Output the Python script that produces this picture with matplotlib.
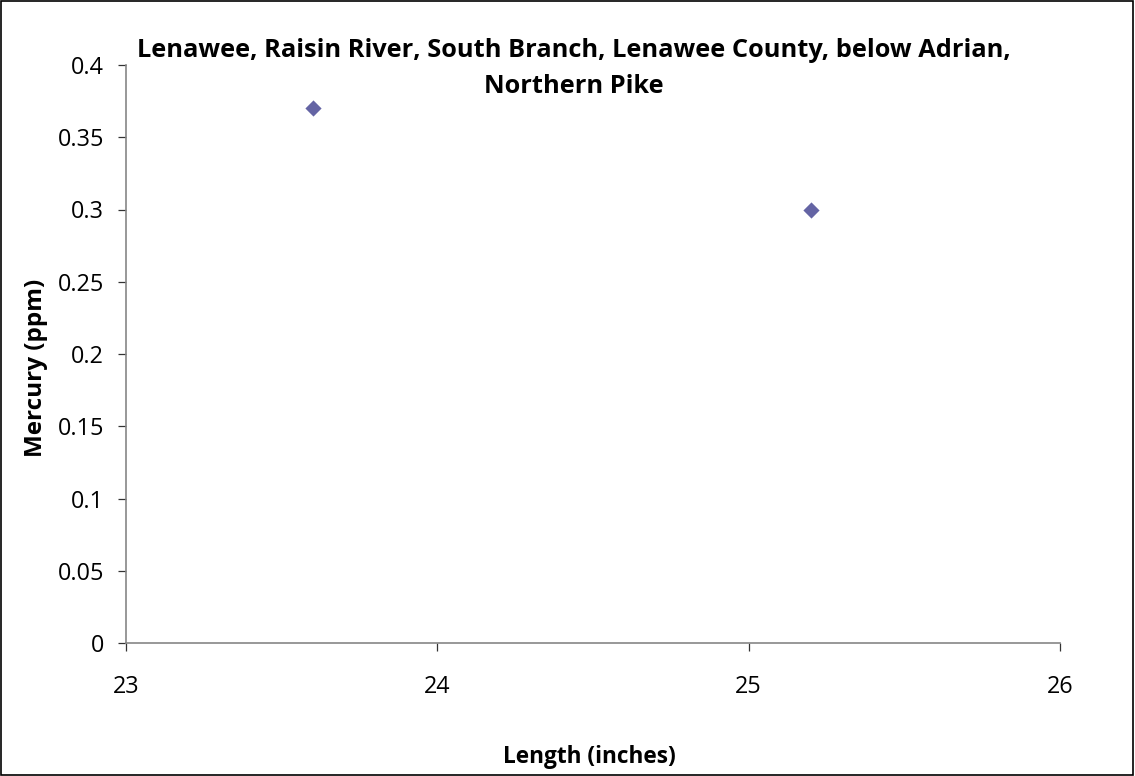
import matplotlib
matplotlib.use("Agg")
import matplotlib.pyplot as plt
from matplotlib.patches import Rectangle

length_in = [23.6, 25.2]
mercury_ppm = [0.37, 0.30]
x_ticks = [23, 24, 25, 26]
y_ticks = [0, 0.05, 0.1, 0.15, 0.2, 0.25, 0.3, 0.35, 0.4]
y_tick_labels = ["0", "0.05", "0.1", "0.15", "0.2", "0.25", "0.3", "0.35", "0.4"]
title = "Lenawee, Raisin River, South Branch, Lenawee County, below Adrian,\nNorthern Pike"

plt.rcParams['font.family'] = ['Open Sans', 'DejaVu Sans']

fig = plt.figure(figsize=(11.35, 7.76), dpi=100)
ax = fig.add_axes([126/1135, 1 - 643/776, (1060 - 126)/1135, (643 - 65)/776])

ax.scatter(length_in, mercury_ppm, marker='D', s=68, color='#6464A4', zorder=3, linewidths=0)

ax.set_xlim(23, 26)
ax.set_ylim(0, 0.4)
ax.set_xticks(x_ticks)
ax.set_xticklabels([str(t) for t in x_ticks], fontsize=16.8)
ax.set_yticks(y_ticks)
ax.set_yticklabels(y_tick_labels, fontsize=16.8)

for s in ['top', 'right']:
    ax.spines[s].set_visible(False)
for s in ['left', 'bottom']:
    ax.spines[s].set_color('#868686')
    ax.spines[s].set_linewidth(1.2)
ax.tick_params(axis='both', direction='out', length=6, width=0.9, color='#333333')
ax.tick_params(axis='x', pad=17)
ax.tick_params(axis='y', pad=10)

fig.text(574/1135, 1 - 93/776, title, ha='center', va='baseline', fontsize=18.3, fontweight='bold',
         linespacing=1.6)
fig.text(589/1135, 1 - 763/776, "Length (inches)", ha='center', va='baseline', fontsize=16.3, fontweight='bold')
fig.text(36/1135, 1 - 368/776, "Mercury (ppm)", ha='center', va='center', rotation=90,
         fontsize=17.5, fontweight='bold')

fig.patches.append(Rectangle((0.0005, 0.0008), 0.998, 0.998, transform=fig.transFigure,
                             fill=False, edgecolor='black', linewidth=1.2))

fig.savefig("out.png", dpi=100)
